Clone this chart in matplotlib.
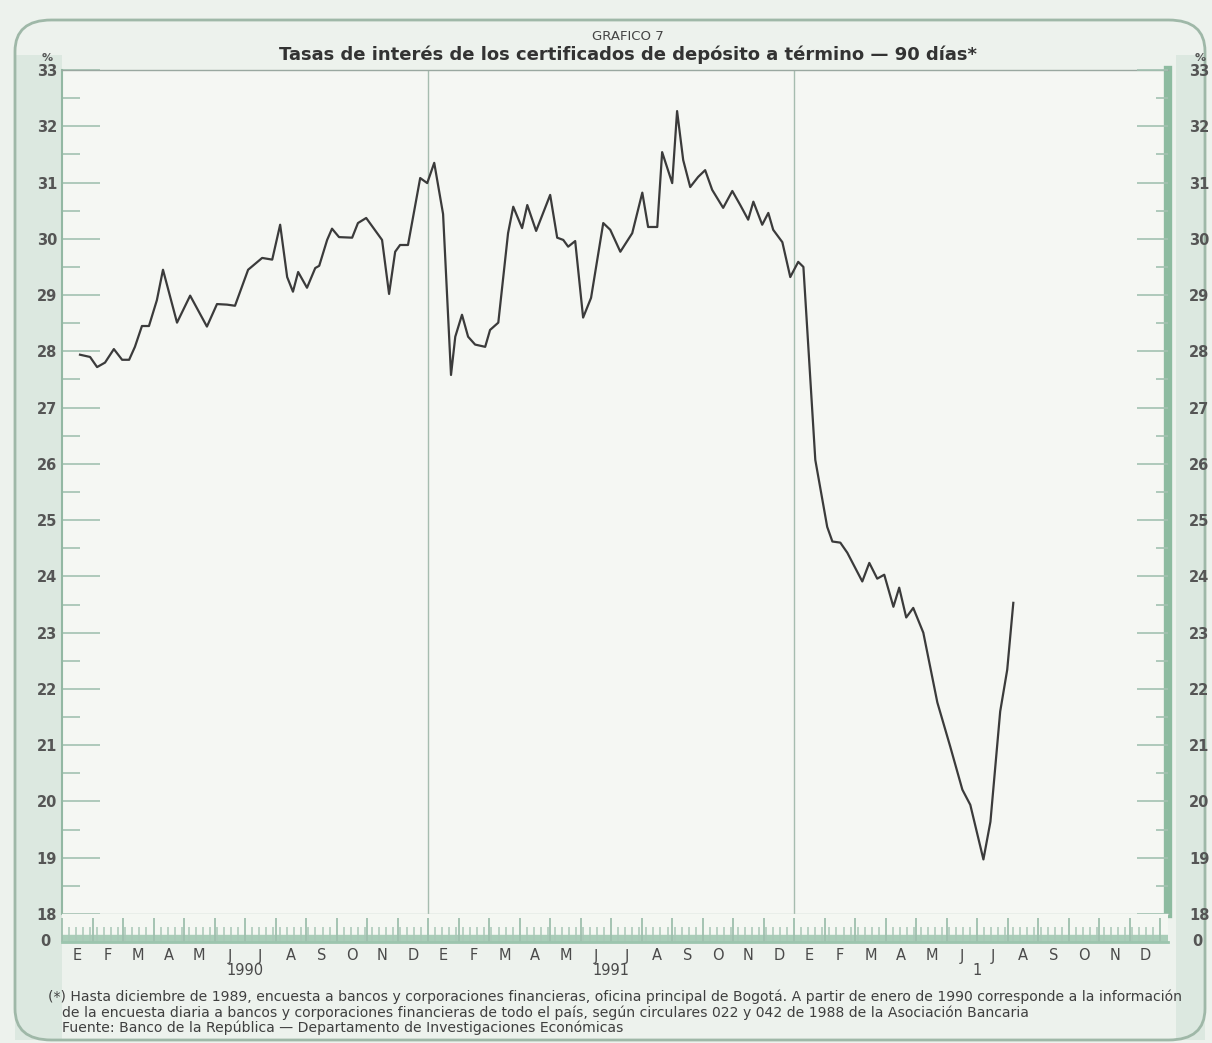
import numpy as np
import matplotlib
matplotlib.use("Agg")
import matplotlib.pyplot as plt
from matplotlib import font_manager as fm
from matplotlib.patches import FancyBboxPatch, Rectangle
import matplotlib.transforms as mtransforms

# ---------------- data ----------------
# x: months elapsed since 1 Jan 1990 ; y: 90-day CDT interest rate (%)
months = [0.59, 0.92, 1.15, 1.41, 1.70, 1.97, 2.20, 2.39, 2.62, 2.85,
          3.11, 3.31, 3.77, 4.20, 4.75, 5.08, 5.41, 5.67, 6.10, 6.56,
          6.89, 7.15, 7.38, 7.57, 7.74, 8.03, 8.30, 8.43, 8.69, 8.85,
          9.08, 9.51, 9.70, 9.97, 10.49, 10.72, 10.92, 11.08, 11.34, 11.74,
          11.97, 12.20, 12.49, 12.75, 12.89, 13.11, 13.31, 13.54, 13.87, 14.03,
          14.30, 14.62, 14.79, 15.08, 15.25, 15.54, 16.00, 16.23, 16.43, 16.59,
          16.82, 17.08, 17.34, 17.74, 17.97, 18.30, 18.69, 19.02, 19.21, 19.51,
          19.67, 20.00, 20.16, 20.36, 20.59, 20.85, 21.08, 21.31, 21.67, 21.97,
          22.23, 22.49, 22.66, 22.95, 23.15, 23.31, 23.61, 23.87, 24.13, 24.30,
          24.69, 25.08, 25.25, 25.51, 25.74, 26.23, 26.46, 26.72, 26.95, 27.25,
          27.44, 27.67, 27.90, 28.23, 28.69, 29.11, 29.51, 29.77, 30.20, 30.43,
          30.75, 30.98, 31.18]
rates = [27.94, 27.90, 27.72, 27.80, 28.04, 27.85, 27.85, 28.08, 28.45, 28.45,
         28.91, 29.45, 28.51, 28.99, 28.44, 28.84, 28.83, 28.81, 29.45, 29.66,
         29.63, 30.25, 29.32, 29.06, 29.41, 29.13, 29.48, 29.52, 29.98, 30.18,
         30.03, 30.02, 30.28, 30.37, 29.98, 29.02, 29.77, 29.89, 29.89, 31.08,
         30.99, 31.35, 30.44, 27.58, 28.26, 28.65, 28.26, 28.12, 28.08, 28.38,
         28.51, 30.10, 30.57, 30.19, 30.60, 30.14, 30.78, 30.02, 29.98, 29.86,
         29.96, 28.60, 28.95, 30.28, 30.16, 29.77, 30.10, 30.82, 30.21, 30.21,
         31.54, 30.99, 32.27, 31.40, 30.92, 31.10, 31.22, 30.87, 30.55, 30.85,
         30.60, 30.34, 30.66, 30.25, 30.46, 30.16, 29.94, 29.32, 29.59, 29.50,
         26.07, 24.88, 24.62, 24.60, 24.42, 23.91, 24.24, 23.96, 24.03, 23.46,
         23.80, 23.27, 23.44, 23.00, 21.76, 20.98, 20.21, 19.94, 18.97, 19.64,
         21.60, 22.34, 23.53]

month_letters = ["E", "F", "M", "A", "M", "J", "J", "A", "S", "O", "N", "D"]
year_labels = ["1990", "1991", "1"]
y_ticks = list(range(18, 34))

title_small = "GRAFICO 7"
title_main = "Tasas de interés de los certificados de depósito a término — 90 días*"
footnotes = [
    "(*) Hasta diciembre de 1989, encuesta a bancos y corporaciones financieras, oficina principal de Bogotá. A partir de enero de 1990 corresponde a la información",
    "de la encuesta diaria a bancos y corporaciones financieras de todo el país, según circulares 022 y 042 de 1988 de la Asociación Bancaria",
    "Fuente: Banco de la República — Departamento de Investigaciones Económicas",
]

# ---------------- fonts ----------------
names = {f.name for f in fm.fontManager.ttflist}
narrow = "Liberation Sans Narrow" if "Liberation Sans Narrow" in names else "DejaVu Sans"
plt.rcParams["font.family"] = [narrow, "DejaVu Sans"]

W, H = 1212, 1043
def box(x0, y0, x1, y1):
    return [x0 / W, 1 - y1 / H, (x1 - x0) / W, (y1 - y0) / H]

page = "#edf2ed"
strip = "#dce8e0"
green = "#8dbba0"
tickc = "#a3c2b2"
textc = "#555555"

fig = plt.figure(figsize=(W / 100, H / 100), dpi=100, facecolor=page)

# side strips and frame (behind the axes)
fig.patches.append(Rectangle((15 / W, 1 - 1040 / H), 47 / W, 985 / H,
                             transform=fig.transFigure, facecolor=strip, edgecolor="none", zorder=-5))
fig.patches.append(Rectangle((1176 / W, 1 - 1040 / H), 29 / W, 985 / H,
                             transform=fig.transFigure, facecolor=strip, edgecolor="none", zorder=-5))
fig.patches.append(FancyBboxPatch((15 / W, 1 - 1040 / H), 1190 / W, 1020 / H,
                                  boxstyle="round,pad=0,rounding_size=0.03",
                                  transform=fig.transFigure, facecolor="none",
                                  edgecolor="#9fb8a8", linewidth=2, zorder=-4))

# main axes
ax = fig.add_axes(box(62, 70, 1168, 914))
ax.set_facecolor("#f5f7f3")
ax.plot(months, rates, color="#3b3b3b", linewidth=1.6, zorder=5)
ax.set_xlim(0, 36.25)
ax.set_ylim(18, 33)
for yr in (12, 24):
    ax.axvline(yr, color="#a6bcaf", linewidth=1.0, zorder=2)

ax.spines["left"].set_color("#93b8a3")
ax.spines["left"].set_linewidth(1.5)
ax.spines["top"].set_color("#9aa8a0")
ax.spines["top"].set_linewidth(1.0)
ax.spines["bottom"].set_color("#bccdc2")
ax.spines["bottom"].set_linewidth(1.0)
ax.spines["right"].set_color(green)
ax.spines["right"].set_linewidth(6)
ax.set_xticks([])
ax.set_yticks(y_ticks)
ax.set_yticks(np.arange(18.5, 33, 1.0), minor=True)
ax.tick_params(axis="y", which="major", direction="in", length=27, width=1.2,
               color=tickc, labelsize=10.5, labelcolor=textc, pad=3.5)
ax.tick_params(axis="y", which="minor", direction="in", length=13, width=1.2, color=tickc)
for lab in ax.get_yticklabels():
    lab.set_fontweight("bold")

ax2 = ax.twinx()
ax2.set_ylim(18, 33)
ax2.set_yticks(y_ticks)
ax2.set_yticks(np.arange(18.5, 33, 1.0), minor=True)
ax2.tick_params(axis="y", which="major", direction="in", length=22, width=1.2,
                color=tickc, labelsize=10.5, labelcolor=textc, pad=15)
ax2.tick_params(axis="y", which="minor", direction="in", length=9, width=1.2, color=tickc)
for lab in ax2.get_yticklabels():
    lab.set_fontweight("bold")
for s in ax2.spines.values():
    s.set_visible(False)

# bottom tick band (0 baseline after the axis break)
band = fig.add_axes(box(62, 914, 1168, 942))
band.set_facecolor("#f4f7f2")
band.set_xlim(0, 36.25)
band.set_ylim(0, 1)
band.axhspan(0, 0.25, color="#a9cdb8", zorder=1)
for s in ("left", "right", "top"):
    band.spines[s].set_visible(False)
band.spines["bottom"].set_color("#9cc5ae")
band.spines["bottom"].set_linewidth(2)
band.set_yticks([])
band.set_xticks(np.arange(0, 37, 1))
band.set_xticks(np.arange(0, 36, 12 / 52), minor=True)
band.tick_params(axis="x", which="major", direction="in", length=17, width=1.3,
                 color="#9ebfad", labelbottom=False)
band.tick_params(axis="x", which="minor", direction="in", length=11, width=1.1,
                 color="#a9c7b7")

trans = mtransforms.blended_transform_factory(band.transData, band.transAxes)
for yi in range(3):
    for mi, ml in enumerate(month_letters):
        band.text(yi * 12 + mi + 0.5, -0.5, ml, transform=trans, ha="center", va="center",
                  fontsize=10.5, color="#4a4a4a")
    band.text(yi * 12 + 6, -1.02, year_labels[yi], transform=trans, ha="center", va="center",
              fontsize=10.5, color="#4a4a4a")

# "0" and "%" labels
fig.text(45 / W, 1 - 942 / H, "0", ha="center", va="center", fontsize=10.5, color=textc, fontweight="bold")
fig.text(1197 / W, 1 - 942 / H, "0", ha="center", va="center", fontsize=10.5, color=textc, fontweight="bold")
fig.text(47 / W, 1 - 58 / H, "%", ha="center", va="center", fontsize=8, color=textc, fontweight="bold")
fig.text(1200 / W, 1 - 58 / H, "%", ha="center", va="center", fontsize=8, color=textc, fontweight="bold")

# titles
fig.text(628 / W, 1 - 37 / H, title_small, ha="center", va="center", fontsize=9.5, color="#444444")
fig.text(628 / W, 1 - 55 / H, title_main, ha="center", va="center", fontsize=13,
         fontweight="bold", color="#333333")

# footnotes
for i, line in enumerate(footnotes):
    fig.text((48 if i == 0 else 62) / W, 1 - (997 + 15.5 * i) / H, line, ha="left", va="center",
             fontsize=10.1, color="#3f3f3f")

fig.savefig("out.png", dpi=100, facecolor=page)
